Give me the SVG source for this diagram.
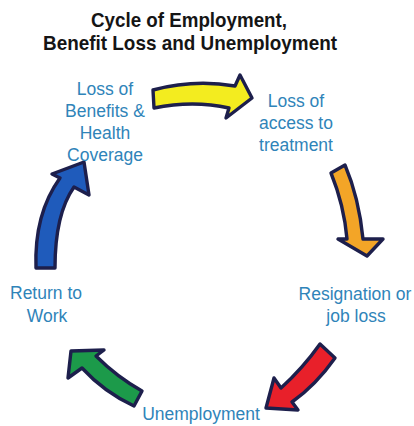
<svg xmlns="http://www.w3.org/2000/svg" width="414" height="426" viewBox="0 0 414 426">
  <style>
    .title { font-family: "Liberation Sans", Arial, sans-serif; font-weight: bold; font-size: 20.5px; fill: #151515; text-anchor: middle; }
    .label { font-family: "Liberation Sans", Arial, sans-serif; font-size: 17.5px; fill: #2f84b9; text-anchor: middle; }
    .arrow { stroke: #1d1f4c; stroke-width: 3.4; stroke-linejoin: round; }
  </style>
  <rect width="414" height="426" fill="#ffffff"/>

  <g id="title">
    <text class="title" x="189" y="27" textLength="196" lengthAdjust="spacingAndGlyphs">Cycle of Employment,</text>
    <text class="title" x="190" y="50" textLength="294" lengthAdjust="spacingAndGlyphs">Benefit Loss and Unemployment</text>
  </g>

  <!-- curved block arrows around the cycle -->
  <g id="connectors">
    <path id="arrow-yellow" class="arrow" fill="#f3ec1f"
          d="M 153,90 Q 194,79 235,86 L 240,75 L 252,98 L 226,118 L 229,108 Q 193,100 154,108 Z"/>
    <path id="arrow-orange" class="arrow" fill="#f3a527"
          d="M 331,173 L 345,165 Q 359,198 363,239 L 383,239 L 367,256 L 338,239 L 347,239 Q 344,205 331,173 Z"/>
    <path id="arrow-red" class="arrow" fill="#e8202a"
          d="M 320,344 L 335,358 Q 316,385 292,402 L 298,410 L 266,408 L 274,378 L 281,388 Q 303,368 320,344 Z"/>
    <path id="arrow-green" class="arrow" fill="#1c9a4a"
          d="M 71,351 L 104,350 L 96,356 Q 117,377 142,391 L 134,406 Q 104,392 82,368 L 68,378 Z"/>
    <path id="arrow-blue" class="arrow" fill="#1f5bbb"
          d="M 36,268 Q 34,214 60,178 L 52,174 L 84,162 L 89,195 L 74,187 Q 55,214 55,268 Z"/>
  </g>

  <g id="loss-of-benefits">
    <text class="label" x="105" y="95">Loss of</text>
    <text class="label" x="105" y="117">Benefits &amp;</text>
    <text class="label" x="105" y="139">Health</text>
    <text class="label" x="105" y="161">Coverage</text>
  </g>

  <g id="loss-of-access">
    <text class="label" x="296" y="107">Loss of</text>
    <text class="label" x="296" y="129">access to</text>
    <text class="label" x="296" y="151">treatment</text>
  </g>

  <g id="resignation">
    <text class="label" x="355" y="300">Resignation or</text>
    <text class="label" x="356" y="322">job loss</text>
  </g>

  <g id="unemployment">
    <text class="label" x="201" y="420">Unemployment</text>
  </g>

  <g id="return-to-work">
    <text class="label" x="46" y="299">Return to</text>
    <text class="label" x="47" y="322">Work</text>
  </g>
</svg>
